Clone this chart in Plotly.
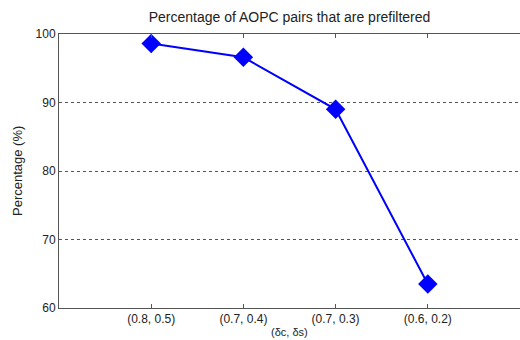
import plotly.graph_objects as go

categories = ["(0.8, 0.5)", "(0.7, 0.4)", "(0.7, 0.3)", "(0.6, 0.2)"]
positions = [1, 2, 3, 4]
percentages = [98.6, 96.6, 89.0, 63.5]
y_ticks = [60, 70, 80, 90, 100]

fig = go.Figure()
fig.add_trace(go.Scatter(
    x=positions, y=percentages, mode="lines+markers",
    line=dict(color="#0000ff", width=2),
    marker=dict(symbol="diamond", size=15, color="#0000ff"),
    showlegend=False,
))

font = dict(family="Liberation Sans, Arial, sans-serif", size=12, color="#222")
fig.update_layout(
    width=520, height=340,
    margin=dict(l=59, r=0, t=34, b=32),
    paper_bgcolor="white", plot_bgcolor="white",
    font=font,
    title=dict(text="Percentage of AOPC pairs that are prefiltered",
               x=289.5 / 520, xanchor="center",
               y=1 - 17 / 340, yanchor="middle", font=dict(size=14, color="#222")),
    xaxis=dict(range=[0, 5], tickvals=positions, ticktext=categories,
               showline=True, linecolor="#555", linewidth=1, mirror="ticks",
               ticks="inside", ticklen=4, tickcolor="#555",
               showgrid=False, zeroline=False),
    yaxis=dict(range=[60, 100], tickvals=y_ticks,
               showline=True, linecolor="#555", linewidth=1, mirror=True,
               ticks="", showgrid=True, gridcolor="#555", griddash="3px,3px",
               gridwidth=1, zeroline=False),
    annotations=[
        dict(text="(δc, δs)", xref="paper", yref="paper", x=0.5, y=-(340 - 308) / 274,
             xanchor="center", yanchor="bottom", showarrow=False, font=dict(size=11, color="#222")),
        dict(text="Percentage (%)", xref="paper", yref="paper", x=-(59 - 17) / 461, y=0.5,
             xanchor="center", yanchor="middle", textangle=-90, showarrow=False,
             font=dict(size=13, color="#222")),
    ],
)
fig.write_html("out.html")
